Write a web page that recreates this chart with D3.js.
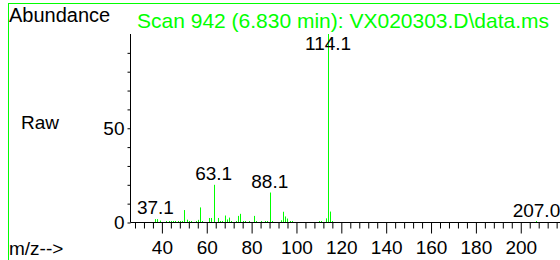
<!DOCTYPE html>
<html>
<head>
<meta charset="utf-8">
<script src="https://cdn.jsdelivr.net/npm/d3@7"></script>
<style>
  body { margin: 0; background: #fff; }
  svg { display: block; }
  text { font-family: "Liberation Sans", Arial, sans-serif; }
</style>
</head>
<body>
<div id="chart"></div>
<script>
// spectrum peaks (m/z, abundance in %)
var peakMz = [37.1, 38, 39, 42, 43, 44, 45, 46, 47, 48, 49, 50, 51, 52, 53, 55, 56, 57, 58,
  61, 62, 63.1, 65, 66, 67, 68, 69, 70, 71, 73, 74, 75, 76, 77, 79, 81, 82, 84, 86, 87,
  88.1, 89, 93, 94, 95, 96, 97, 98, 110, 111, 113, 114.1, 115, 116, 207.0];
var peakAbund = [1.8, 1.8, 1.0, 0.3, 0.4, 0.5, 0.4, 0.4, 0.5, 0.6, 0.4, 6.6, 1.5, 0.4, 0.5, 0.5, 1.4, 8.0, 0.4,
  2.4, 2.4, 20.0, 2.4, 0.5, 0.6, 3.7, 1.6, 2.6, 0.5, 0.8, 3.5, 4.6, 0.5, 0.6, 0.4, 3.5, 0.6, 0.4, 0.5, 0.7,
  15.9, 0.6, 1.2, 5.7, 3.2, 2.1, 0.4, 0.5, 0.5, 0.6, 2.2, 100, 5.8, 0.6, 0.5];

// labelled peaks
var labelMz = [37.1, 63.1, 88.1, 114.1, 207.0];
var labelText = ["37.1", "63.1", "88.1", "114.1", "207.0"];

var xMajorTicks = [40, 60, 80, 100, 120, 140, 160, 180, 200];
var yTicks = [0, 10, 20, 30, 40, 50, 60, 70, 80, 90];
var yTickLabels = [0, 50];

var titleText = "Scan 942 (6.830 min): VX020303.D\\data.ms";
var green = "#00ff00";

var svg = d3.select("#chart").append("svg")
  .attr("width", 560)
  .attr("height", 260);

// frame
svg.append("line").attr("x1", 8.5).attr("x2", 8.5).attr("y1", 3).attr("y2", 260)
  .style("stroke", green);
svg.append("line").attr("x1", 8).attr("x2", 560).attr("y1", 3.5).attr("y2", 3.5)
  .style("stroke", green);

var x = d3.scaleLinear().domain([26, 217.5]).range([130.5, 560]);
var y = d3.scaleLinear().domain([0, 100]).range([222.5, 34]);

// peaks (at least 1px tall so the small ones stay visible)
svg.selectAll(".peak")
  .data(peakMz)
  .enter()
  .append("line")
  .attr("class", "peak")
  .attr("x1", function (d) { return Math.round(x(d)) + 0.5; })
  .attr("x2", function (d) { return Math.round(x(d)) + 0.5; })
  .attr("y1", y(0))
  .attr("y2", function (d, i) { return Math.min(y(peakAbund[i]), y(0) - 1.5); })
  .style("stroke", green)
  .style("stroke-width", 1);

// x axis: minor ticks every 4, major every 20
var minorTicks = d3.range(28, 217, 4).filter(function (d) { return d % 20 !== 0; });
svg.append("g")
  .attr("transform", "translate(0," + y(0) + ")")
  .call(d3.axisBottom(x).tickValues(minorTicks).tickSize(6).tickFormat("").tickSizeOuter(0))
  .call(function (g) { g.select(".domain").remove(); });

var xAxis = svg.append("g")
  .attr("transform", "translate(0," + y(0) + ")")
  .call(d3.axisBottom(x).tickValues(xMajorTicks).tickSize(11).tickSizeOuter(0).tickPadding(7));
xAxis.select(".domain").attr("d", "M130.5,0H560");
xAxis.selectAll("text").style("font-size", "19px").style("fill", "#000")
  .style("font-family", "Liberation Sans, Arial, sans-serif");

// y axis
var yAxis = svg.append("g")
  .attr("transform", "translate(" + x(26) + ",0)")
  .call(d3.axisLeft(y).tickValues(yTicks).tickSize(3).tickSizeOuter(0).tickPadding(3)
    .tickFormat(function (d) { return yTickLabels.indexOf(d) >= 0 ? d : ""; }));
yAxis.select(".domain").attr("d", "M0,222.5V34");
yAxis.selectAll("text").style("font-size", "19px").style("fill", "#000")
  .style("font-family", "Liberation Sans, Arial, sans-serif");

// peak labels
svg.selectAll(".plabel")
  .data(labelMz)
  .enter()
  .append("text")
  .attr("class", "plabel")
  .attr("x", function (d) { return x(d); })
  .attr("y", function (d) {
    var i = peakMz.indexOf(d);
    return Math.max(y(peakAbund[i]) - 5, 50);
  })
  .attr("text-anchor", "middle")
  .style("font-size", "19px")
  .style("fill", "#000")
  .text(function (d, i) { return labelText[i]; });

// texts
svg.append("text").attr("x", 137).attr("y", 28)
  .style("font-size", "21px").style("fill", green).text(titleText);
svg.append("text").attr("x", 9).attr("y", 22)
  .style("font-size", "20px").style("fill", "#000").text("Abundance");
svg.append("text").attr("x", 21).attr("y", 129)
  .style("font-size", "19px").style("fill", "#000").text("Raw");
svg.append("text").attr("x", 9).attr("y", 255)
  .style("font-size", "19px").style("fill", "#000").text("m/z-->");
</script>
</body>
</html>
